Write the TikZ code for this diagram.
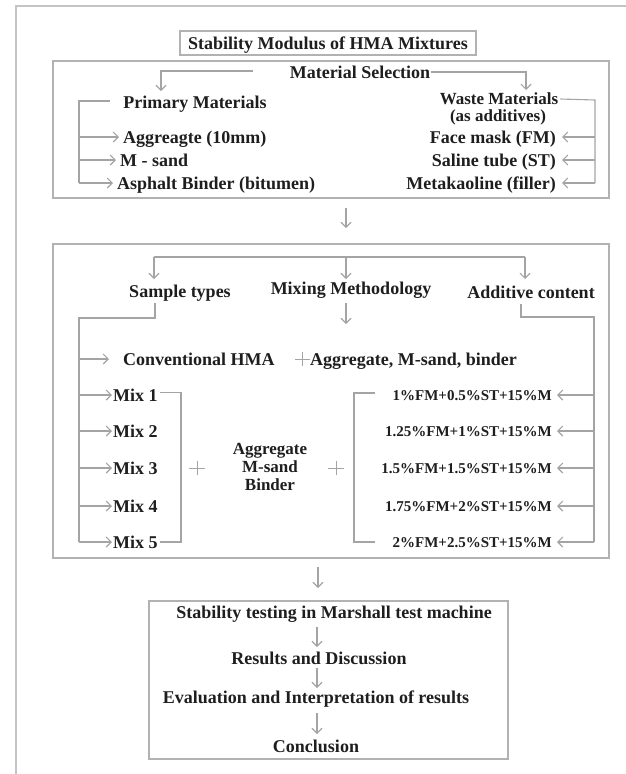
\documentclass[tikz,border=0pt]{standalone}
\usepackage{fontspec}
\setmainfont{Liberation Serif}
\usetikzlibrary{arrows.meta}
\definecolor{ink}{HTML}{1E1E1E}
\definecolor{lnc}{HTML}{A4A4A4}
\definecolor{bxc}{HTML}{B2B2B2}
\definecolor{outc}{HTML}{C4C4C4}
\begin{document}
\begin{tikzpicture}[x=1pt,y=-1pt,
  t/.style={font=\bfseries\fontsize{18}{18}\selectfont,text=ink,inner sep=0pt,text height=13pt,text depth=1pt},
  ts/.style={font=\bfseries\fontsize{17}{17}\selectfont,text=ink,inner sep=0pt,text height=12pt,text depth=1pt},
  tx/.style={font=\bfseries\fontsize{15}{15}\selectfont,text=ink,inner sep=0pt,text height=11pt,text depth=1pt},
  ln/.style={draw=lnc,line width=1.1pt},
  arr/.style={draw=lnc,line width=1.1pt,-{Straight Barb[length=5pt,width=10pt]}},
  frame/.style={draw=bxc,line width=1.4pt,inner sep=0pt},
  plus/.style={draw=lnc,line width=0.9pt}]
\useasboundingbox (0,0) rectangle (626,774);
% outer frame (cropped)
\coordinate (o1) at (626,6);
\coordinate (o2) at (16,6);
\coordinate (o3) at (16,774);
\draw[draw=outc,line width=1.8pt] (o1) -- (o2) -- (o3);

% title
\node[frame,t,minimum width=296pt,minimum height=24pt] (title) at (328,43) {Stability Modulus of HMA Mixtures};

% material selection box
\node[frame,minimum width=556pt,minimum height=137pt] (matbox) at (331,129.5) {};
\node[t] (matsel) at (360,72) {Material Selection};
\coordinate (mlA) at (253,71);
\coordinate (pArr) at (161,91);
\coordinate (wArr) at (526,90);
\draw[arr] (mlA) -| (pArr);
\draw[arr] ([xshift=1pt]matsel.east) -| (wArr);

\node[t] (prim) at (195,102) {Primary Materials};
\node[ts] (waste) at (499,99) {Waste Materials};
\node[ts] (wadd) at (498,116) {(as additives)};

\node[t,anchor=west] (aggr) at (123,137) {Aggreagte (10mm)};
\node[t,anchor=west] (msand) at (120,160) {M - sand};
\node[t,anchor=west] (asph) at (117,183) {Asphalt Binder (bitumen)};
\coordinate (lbs) at (110,101);
\coordinate (lb) at (79,101);
\draw[ln] (lbs) -- (lb) -- (lb |- asph);
\foreach \n in {aggr,msand,asph} \draw[arr] (lb |- \n) -- ([xshift=-4pt]\n.west);

\node[t,anchor=east] (face) at (556,137) {Face mask (FM)};
\node[t,anchor=east] (saline) at (556,160) {Saline tube (ST)};
\node[t,anchor=east] (meta) at (556,183) {Metakaoline (filler)};
\coordinate (rb) at (595,100);
\draw[ln] ([xshift=2pt]waste.east) -- (rb) -- (rb |- meta);
\foreach \n in {face,saline,meta} \draw[arr] (rb |- \n) -- ([xshift=6pt]\n.east);

% arrow between boxes
\coordinate (a1s) at (346,208);
\coordinate (a1e) at (346,228);
\draw[arr] (a1s) -- (a1e);

% middle box
\node[frame,minimum width=556pt,minimum height=314pt] (midbox) at (331,401) {};
\coordinate (brL) at (154,257);
\coordinate (brR) at (525,257);
\coordinate (brC) at (346,257);
\coordinate (tL) at (154,279);
\coordinate (tC) at (346,279);
\coordinate (tR) at (525,279);
\draw[ln] (brL) -- (brR);
\draw[arr] (brL) -- (tL);
\draw[arr] (brC) -- (tC);
\draw[arr] (brR) -- (tR);

\node[t] (sample) at (180,291) {Sample types};
\node[t] (mixing) at (351,288) {Mixing Methodology};
\node[t] (addc) at (531,292) {Additive content};

\coordinate (sd1) at (155,303);
\coordinate (lb2) at (79,318);
\coordinate (ad1) at (521,304);
\coordinate (rb2) at (594,317);
\coordinate (md1) at (346,303);
\coordinate (md2) at (346,324);
\draw[arr] (md1) -- (md2);

% left column
\node[t,anchor=west] (conv) at (123,359) {Conventional HMA};
\node[t,anchor=west] (aggline) at (310,359) {Aggregate, M-sand, binder};
\coordinate (p0) at (302,359);
\draw[plus] ([xshift=-7.5pt]p0) -- ([xshift=7.5pt]p0) ([yshift=-7pt]p0) -- ([yshift=7pt]p0);

\node[t,anchor=west] (mix1) at (113,395) {Mix 1};
\node[t,anchor=west] (mix2) at (113,431) {Mix 2};
\node[t,anchor=west] (mix3) at (113,468) {Mix 3};
\node[t,anchor=west] (mix4) at (113,506) {Mix 4};
\node[t,anchor=west] (mix5) at (113,542) {Mix 5};

\draw[ln] (sd1) |- (lb2) -- (lb2 |- mix5);
\draw[arr] (lb2 |- conv) -- ([xshift=-14pt]conv.west);
\foreach \n in {mix1,mix2,mix3,mix4,mix5} \draw[arr] (lb2 |- \n) -- ([xshift=-1pt]\n.west);

\coordinate (mbr) at (181,392);
\draw[ln] ([xshift=2pt]mix1.north east) ++(0,-5pt) -| (mbr |- mix5) -- ([xshift=2pt]mix5.east);

\coordinate (p1) at (197,468);
\coordinate (p2) at (336,468);
\draw[plus] ([xshift=-8pt]p1) -- ([xshift=8pt]p1) ([yshift=-7pt]p1) -- ([yshift=7pt]p1);
\draw[plus] ([xshift=-8pt]p2) -- ([xshift=8pt]p2) ([yshift=-7pt]p2) -- ([yshift=7pt]p2);

\node[ts] (mA) at (270,449) {Aggregate};
\node[ts] (mB) at (270,467) {M-sand};
\node[ts] (mC) at (270,485) {Binder};

% right column
\node[tx,anchor=east] (add1) at (552,395) {1\%FM+0.5\%ST+15\%M};
\node[tx,anchor=east] (add2) at (552,431) {1.25\%FM+1\%ST+15\%M};
\node[tx,anchor=east] (add3) at (552,468) {1.5\%FM+1.5\%ST+15\%M};
\node[tx,anchor=east] (add4) at (552,506) {1.75\%FM+2\%ST+15\%M};
\node[tx,anchor=east] (add5) at (552,542) {2\%FM+2.5\%ST+15\%M};

\draw[ln] (ad1) |- (rb2) -- (rb2 |- add5);
\foreach \n in {add1,add2,add3,add4,add5} \draw[arr] (rb2 |- \n) -- ([xshift=5pt]\n.east);

\coordinate (rbr) at (354,393);
\coordinate (rbt) at (375,393);
\coordinate (rbb) at (375,542);
\draw[ln] (rbt) -- (rbr) |- (rbb);

% arrow to bottom box
\coordinate (a2s) at (318,567);
\coordinate (a2e) at (318,588);
\draw[arr] (a2s) -- (a2e);

% bottom box
\node[frame,minimum width=359pt,minimum height=158pt] (botbox) at (328.5,680) {};
\node[t] (stab) at (334,612) {Stability testing in Marshall test machine};
\node[t] (res) at (319,658) {Results and Discussion};
\node[t] (eval) at (316,697) {Evaluation and Interpretation of results};
\node[t] (conc) at (316,746) {Conclusion};
\coordinate (b1s) at (317,627);
\coordinate (b1e) at (317,647);
\coordinate (b2s) at (317,668);
\coordinate (b2e) at (317,688);
\coordinate (b3s) at (317,713);
\coordinate (b3e) at (317,734);
\draw[arr] (b1s) -- (b1e);
\draw[arr] (b2s) -- (b2e);
\draw[arr] (b3s) -- (b3e);
\end{tikzpicture}
\end{document}
